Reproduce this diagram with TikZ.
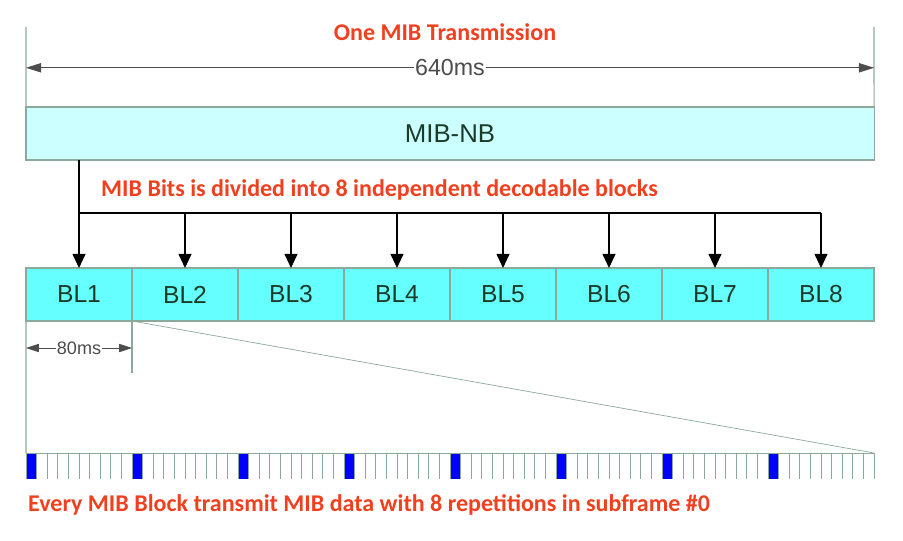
\documentclass[tikz,border=0pt]{standalone}
\usepackage{fontspec}
\setmainfont{Liberation Sans}
\newfontfamily\calfont{Carlito}
\usetikzlibrary{calc,arrows.meta}
\definecolor{mibRed}{RGB}{240,64,32}
\definecolor{mibLine}{RGB}{140,170,155}
\definecolor{mibPale}{RGB}{204,255,255}
\definecolor{mibCyan}{RGB}{102,255,255}
\definecolor{mibText}{RGB}{28,58,40}
\definecolor{mibBlue}{RGB}{0,0,255}

\begin{document}
\begin{tikzpicture}[x=0.03cm,y=-0.03cm,>={Triangle[length=12pt,width=11pt]},
  redlabel/.style={font=\calfont\bfseries\fontsize{20.5}{23}\selectfont,text=mibRed,inner sep=0pt},
  nbbox/.style={draw=mibLine,line width=0.9pt,fill=mibPale,minimum width=25.44cm,minimum height=1.59cm,inner sep=0pt,outer sep=0pt,text=mibText,font=\fontsize{22}{24}\selectfont},
  blbox/.style={draw=mibLine,line width=0.9pt,fill=mibCyan,minimum width=3.18cm,minimum height=1.59cm,inner sep=0pt,outer sep=0pt,text=mibText,font=\fontsize{21}{23}\selectfont},
  sfbox/.style={minimum width=0.318cm,minimum height=0.78cm,inner sep=0pt,outer sep=0pt},
  guide/.style={mibLine,line width=0.9pt},
  dimline/.style={black!70,line width=0.6pt,{Triangle[length=13pt,width=8pt]}-{Triangle[length=13pt,width=8pt]}}]
  \useasboundingbox (0,0) rectangle (903,541);

  % titles
  \node[redlabel] (title) at (445,32) {One MIB Transmission};
  \node[redlabel,anchor=west] (divtxt) at (101,190) {MIB Bits is divided into 8 independent decodable blocks};
  \node[redlabel,anchor=west] (reptxt) at (28,505) {Every MIB Block transmit MIB data with 8 repetitions in subframe \#0};

  % MIB-NB and its 640ms span
  \node[nbbox] (nb) at (450,133.5) {MIB-NB};
  \coordinate (topL) at (26,27);
  \coordinate (topR) at (874,27);
  \draw[guide] (topL) -- (nb.north west);
  \draw[guide] (topR) -- (nb.north east);
  \draw[dimline] ($(topL)!0.51!(nb.north west)$) -- ($(topR)!0.51!(nb.north east)$)
    node[midway,fill=white,inner sep=1pt,font=\fontsize{19.8}{22}\selectfont] (span) {640ms};

  % the eight blocks
  \foreach \i in {1,...,8}
    \node[blbox] (bl\i) at ({26+106*(\i-0.5)},294.5) {BL\i};

  % bus from MIB-NB to the blocks
  \coordinate (bus) at (0,213);
  \draw[line width=1.2pt] (bl1.north |- nb.south) -- (bl1.north |- bus) -- (bl8.north |- bus);
  \foreach \i in {1,...,8}
    \draw[line width=1.2pt,->] (bl\i.north |- bus) -- (bl\i.north);

  % subframes of one block
  \foreach \k in {0,...,79}{
    \pgfmathtruncatemacro{\r}{mod(\k,10)}
    \ifnum\r=0
      \node[sfbox,fill=mibBlue] (sf\k) at ({26+10.6*(\k+0.5)},466) {};
    \else
      \node[sfbox] (sf\k) at ({26+10.6*(\k+0.5)},466) {};
    \fi
    \draw[guide,line width=0.7pt] (sf\k.north west) -- (sf\k.south west);
  }
  \draw[guide,line width=0.7pt] (sf79.north east) -- (sf79.south east);
  \draw[guide,line width=0.7pt] (sf0.north west) -- (sf79.north east);

  % zoom of BL1
  \coordinate (dimEnd) at ($(bl1.south east)+(0,52)$);
  \draw[guide] (bl1.south west) -- (sf0.north west);
  \draw[guide] (bl1.south east) -- (dimEnd);
  \draw[guide,line width=0.6pt] (bl1.south east) -- (sf79.north east);
  \draw[dimline,{Triangle[length=11pt,width=7pt]}-{Triangle[length=11pt,width=7pt]}] ($(bl1.south west)+(0,27)$) -- ($(bl1.south east)+(0,27)$)
    node[midway,fill=white,inner sep=1pt,font=\fontsize{15.4}{17}\selectfont] (span80) {80ms};
\end{tikzpicture}
\end{document}
